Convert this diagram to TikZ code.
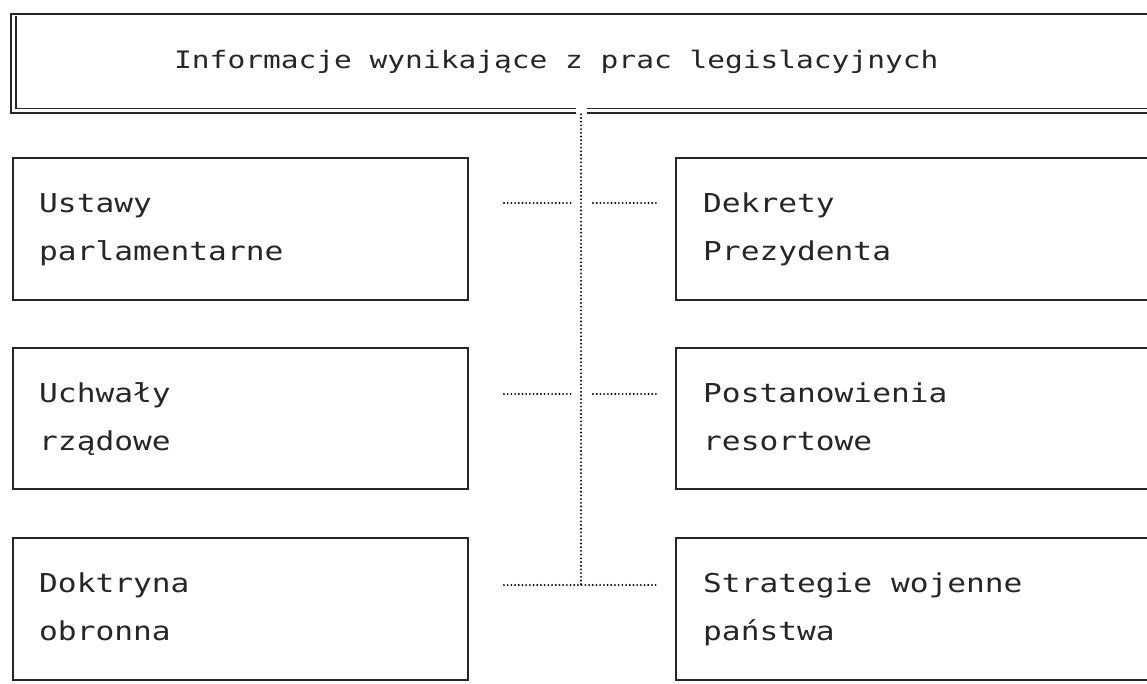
\documentclass[tikz,border=0pt]{standalone}
\usepackage{fontspec}
\newfontfamily\boxfont[FakeStretch=1.2]{DejaVu Sans Mono}
\newfontfamily\titlefont[FakeStretch=1.23]{DejaVu Sans Mono}
\begin{document}
\begin{tikzpicture}[x=1pt,y=-1pt,
  box/.style={draw=black!85, line width=1.9pt, inner sep=0pt, rectangle},
  lbl/.style={anchor=base west, inner sep=0pt, text=black!85, font=\boxfont\fontsize{26}{26}\selectfont},
  ttl/.style={anchor=base west, inner sep=0pt, text=black!85, font=\titlefont\fontsize{24}{24}\selectfont},
  conn/.style={draw=black, line width=2.1pt, line cap=round, dash pattern=on 0pt off 3.7pt},
]
\useasboundingbox (0,0) rectangle (1147,683);
\fill[white] (0,0) rectangle (1147,683);

% title box
\node (T) [box, line width=2.6pt, minimum width=1159, minimum height=99] at (590.5,63.5) {};
\draw[black!85, line width=1.5pt] (16,16) -- (16,108.5) -- (1170,108.5);
\fill[white] (576,104) rectangle (587,116);
\node (Tt) [ttl] at (174,68) {Informacje wynikające z prac legislacyjnych};

% left column
\node (L1) [box, minimum width=455, minimum height=142] at (240.5,229) {};
\node (L2) [box, minimum width=455, minimum height=141] at (240.5,418.5) {};
\node (L3) [box, minimum width=455, minimum height=142] at (240.5,609) {};
% right column
\node (R1) [box, minimum width=494, minimum height=142] at (923,229) {};
\node (R2) [box, minimum width=494, minimum height=141] at (923,418.5) {};
\node (R3) [box, minimum width=494, minimum height=142] at (923,609) {};

% texts
\node (L1a) [lbl] at (39,212) {Ustawy};
\node (L1b) [lbl] at (39,260) {parlamentarne};
\node (L2a) [lbl] at (39,402) {Uchwały};
\node (L2b) [lbl] at (39,450) {rządowe};
\node (L3a) [lbl] at (39,592) {Doktryna};
\node (L3b) [lbl] at (39,640) {obronna};
\node (R1a) [lbl] at (703,212) {Dekrety};
\node (R1b) [lbl] at (703,260) {Prezydenta};
\node (R2a) [lbl] at (703,402) {Postanowienia};
\node (R2b) [lbl] at (703,450) {resortowe};
\node (R3a) [lbl] at (703,592) {Strategie wojenne};
\node (R3b) [lbl] at (703,640) {państwa};

% connectors
\coordinate (j1) at (581,203);
\coordinate (j2) at (581,394);
\coordinate (j3) at (581,585);
\draw[conn] (T.south -| j3) -- (j3);
\draw[conn, shorten <=35pt, shorten >=10pt] (L1.east |- j1) -- (j1);
\draw[conn, shorten <=12pt, shorten >=16pt] (j1) -- (R1.west |- j1);
\draw[conn, shorten <=35pt, shorten >=10pt] (L2.east |- j2) -- (j2);
\draw[conn, shorten <=12pt, shorten >=16pt] (j2) -- (R2.west |- j2);
\draw[conn, shorten <=35pt, shorten >=16pt] (L3.east |- j3) -- (R3.west |- j3);
\end{tikzpicture}
\end{document}
